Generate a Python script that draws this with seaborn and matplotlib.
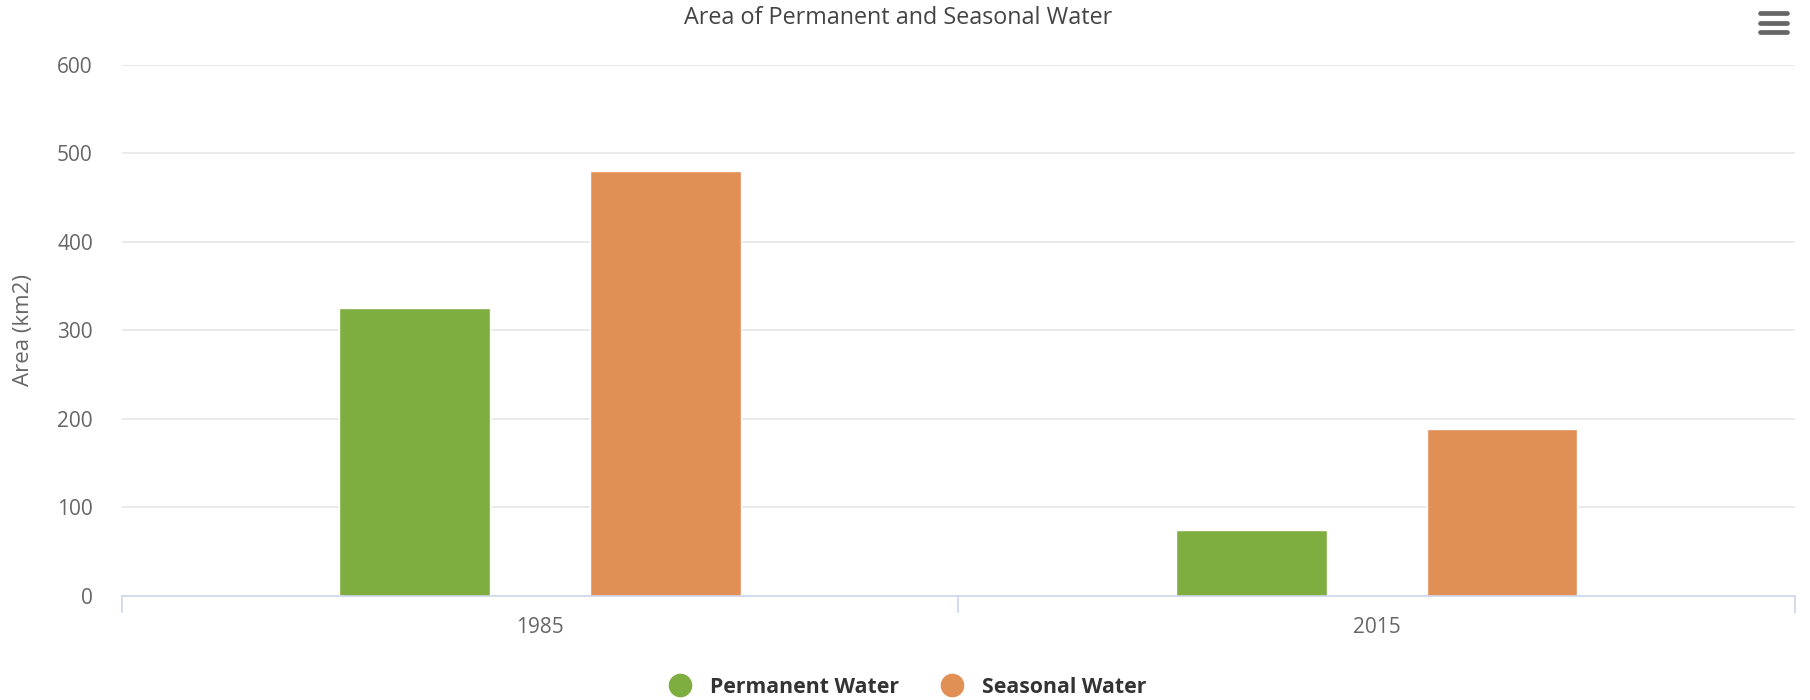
import pandas as pd
import matplotlib
matplotlib.use("Agg")
import matplotlib.pyplot as plt
from matplotlib.lines import Line2D
import seaborn as sns

# Chart data
years = ["1985", "2015"]
permanent = [325, 75]
seasonal = [480, 188]
series_names = ["Permanent Water", "Seasonal Water"]
colors = ["#7fae40", "#e28f56"]

df = pd.DataFrame({"Year": years, series_names[0]: permanent, series_names[1]: seasonal})
df = df.melt(id_vars="Year", var_name="Series", value_name="Area")

sns.set_style("white")
plt.rcParams["font.family"] = ["Open Sans", "DejaVu Sans"]

fig = plt.figure(figsize=(18.1, 7), dpi=100)
ax = fig.add_axes([0.0674, 0.1486, 0.9243, 0.7591])

sns.barplot(data=df, x="Year", y="Area", hue="Series", palette=colors,
            width=0.6, gap=0.4, saturation=1, ax=ax, legend=False)

# axes styling
ax.set_ylim(0, 600)
ax.set_xlim(-0.5, 1.5)
ax.set_yticks(range(0, 601, 100))
ax.yaxis.grid(True, color="#e6e6e6", linewidth=1.2)
ax.set_axisbelow(True)
for side in ["top", "right", "left"]:
    ax.spines[side].set_visible(False)
ax.spines["bottom"].set_color("#ccd6eb")
ax.spines["bottom"].set_linewidth(1.2)
ax.tick_params(axis="y", length=0, labelsize=15, labelcolor="#666666", pad=21)
ax.tick_params(axis="x", which="major", length=0, labelsize=15, labelcolor="#666666", pad=15)
ax.set_xticks([-0.5, 0.5, 1.5], minor=True)
ax.tick_params(axis="x", which="minor", bottom=True, length=12, color="#ccd6eb", width=1.2)
ax.set_xlabel("")
ax.set_ylabel("Area (km2)", fontsize=16, color="#666666")
ax.yaxis.set_label_coords(-0.0525, 0.5)

fig.suptitle("Area of Permanent and Seasonal Water", x=0.496, y=0.992,
             fontsize=16.8, color="#444444", va="top")

# legend
handles = [Line2D([], [], marker="o", linestyle="", markersize=16,
                  markerfacecolor=c, markeredgecolor=c) for c in colors]
leg = fig.legend(handles, series_names, loc="center", bbox_to_anchor=(0.4985, 0.018),
                 ncol=2, frameon=False, handletextpad=0.4, columnspacing=1.5,
                 prop={"weight": "bold", "size": 15.3})
for t in leg.get_texts():
    t.set_color("#333333")

# menu icon
for yy in [0.981, 0.967, 0.954]:
    fig.add_artist(Line2D([0.9725, 0.9875], [yy, yy], color="#666666",
                          linewidth=3.4, solid_capstyle="round"))

fig.savefig("out.png", dpi=100, facecolor="white")
